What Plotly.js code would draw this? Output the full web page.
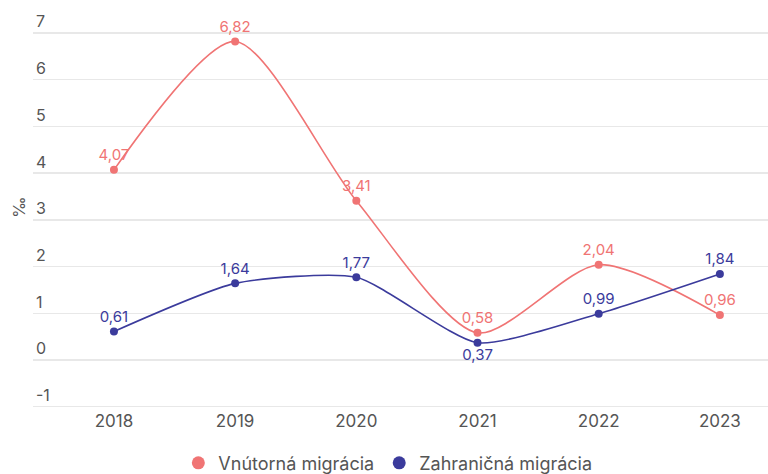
<!DOCTYPE html>
<html>
<head>
<meta charset="utf-8">
<script src="https://cdn.plot.ly/plotly-3.0.1.min.js"></script>
<style>html,body{margin:0;padding:0;background:#fff;}#chart{width:768px;height:474px;}</style>
</head>
<body>
<div id="chart"></div>
<script>
const years = ["2018", "2019", "2020", "2021", "2022", "2023"];
const internal = [4.07, 6.82, 3.41, 0.58, 2.04, 0.96];
const foreign = [0.61, 1.64, 1.77, 0.37, 0.99, 1.84];
const internalName = "Vnútorná migrácia";
const foreignName = "Zahraničná migrácia";
const yTickVals = [-1, 0, 1, 2, 3, 4, 5, 6, 7];
const yTickText = ["-1", "0", "1", "2", "3", "4", "5", "6", "7"];
const internalPos = ["top center", "top center", "top center", "top center", "top center", "top center"];
const foreignPos = ["top center", "top center", "top center", "bottom center", "top center", "top center"];

const red = "#f07474";
const blue = "#3b3b9c";
const fmt = v => v.toFixed(2).replace(".", ",");

const data = [
  {x: years, y: internal, mode: "lines+markers+text", type: "scatter",
   line: {color: red, width: 1.6, shape: "spline", smoothing: 0.75},
   marker: {color: red, size: 8}, text: internal.map(fmt), textposition: internalPos,
   textfont: {color: red, size: 15, family: "Inter, sans-serif"}, showlegend: false, cliponaxis: false},
  {x: years, y: foreign, mode: "lines+markers+text", type: "scatter",
   line: {color: blue, width: 1.6, shape: "spline", smoothing: 0.6},
   marker: {color: blue, size: 8}, text: foreign.map(fmt), textposition: foreignPos,
   textfont: {color: blue, size: 15, family: "Inter, sans-serif"}, showlegend: false, cliponaxis: false},
  {x: [null], y: [null], mode: "markers", type: "scatter", name: internalName, marker: {color: red, size: 13}},
  {x: [null], y: [null], mode: "markers", type: "scatter", name: foreignName, marker: {color: blue, size: 13}}
];

const layout = {
  width: 768, height: 474,
  margin: {l: 33, r: 0, t: 5, b: 65},
  paper_bgcolor: "#fff", plot_bgcolor: "#fff",
  font: {family: "Inter, sans-serif", color: "#555"},
  xaxis: {type: "category", range: [-0.668, 5.397], showgrid: false, zeroline: false, showline: false,
          ticks: "", ticklabelstandoff: 0, tickfont: {size: 17, color: "#555"}, fixedrange: true},
  yaxis: {range: [-1.05, 7.6], tickmode: "array", tickvals: yTickVals, ticktext: yTickText,
          showgrid: true, gridcolor: "#e8e8e8", gridwidth: 1.5,
          zeroline: false, showline: false, ticks: "", ticklabelposition: "inside top",
          tickfont: {size: 16, color: "#555"},
          title: {text: "‰", font: {size: 16, color: "#555"}, standoff: 6}, automargin: false, fixedrange: true},
  showlegend: true,
  legend: {orientation: "h", xref: "container", yref: "container", x: 0.505, xanchor: "center",
           y: 0.023, yanchor: "middle",
           font: {size: 18, color: "#555"}, itemwidth: 30, tracegroupgap: 0}
};

Plotly.newPlot("chart", data, layout, {displayModeBar: false, staticPlot: true});
</script>
</body>
</html>
